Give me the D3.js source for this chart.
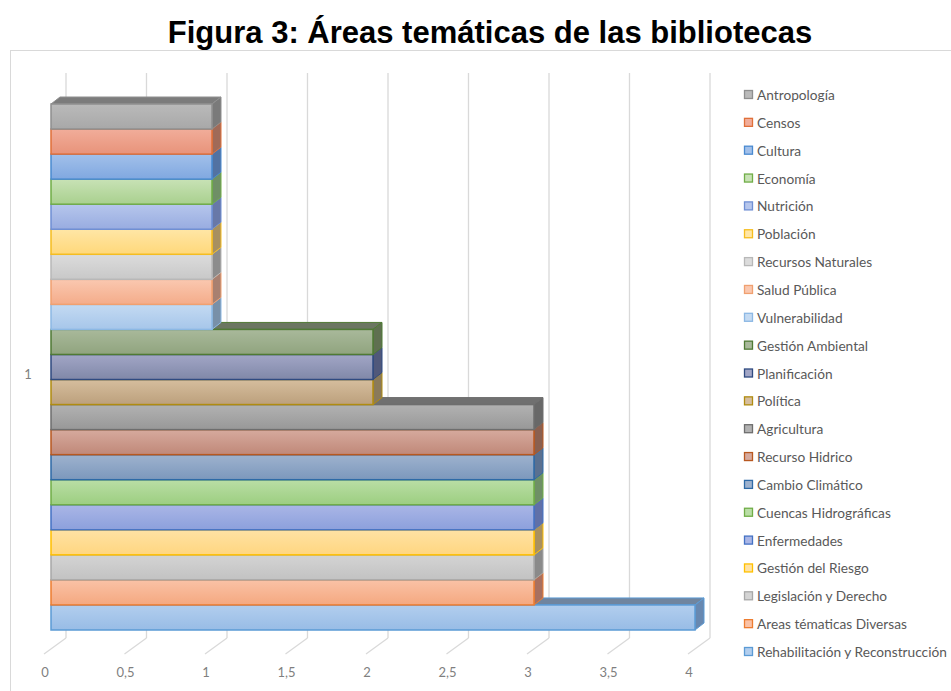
<!DOCTYPE html>
<html>
<head>
<meta charset="utf-8">
<script src="https://cdn.jsdelivr.net/npm/d3@7"></script>
<style>
  body { margin: 0; background: #fff; }
  svg text { font-family: Lato, "Open Sans", sans-serif; }
</style>
</head>
<body>
<svg id="chart" width="951" height="691"></svg>
<script>
// data
const series = [
  "Antropología", "Censos", "Cultura", "Economía", "Nutrición", "Población",
  "Recursos Naturales", "Salud Pública", "Vulnerabilidad", "Gestión Ambiental",
  "Planificación", "Política", "Agricultura", "Recurso Hidrico", "Cambio Climático",
  "Cuencas Hidrográficas", "Enfermedades", "Gestión del Riesgo", "Legislación y Derecho",
  "Areas tématicas Diversas", "Rehabilitación y Reconstrucción"
];
const values = [1, 1, 1, 1, 1, 1, 1, 1, 1, 2, 2, 2, 3, 3, 3, 3, 3, 3, 3, 3, 4];
const category = "1";
const xTicks = [0, 0.5, 1, 1.5, 2, 2.5, 3, 3.5, 4];

// styles: [fill top, fill bottom, stroke, side]
const colors = [
  ["#bababa", "#a8a8a8", "#8f8f8f", "#7a7a7a"],
  ["#f1ad9a", "#e8937a", "#e0703a", "#a06a58"],
  ["#a2c0ea", "#80a8e0", "#4a8ad0", "#5272a2"],
  ["#c8e2b6", "#a9d08e", "#70ad47", "#6f8f66"],
  ["#b6c6ec", "#98ace0", "#6f8fd4", "#6878a8"],
  ["#ffe6a6", "#ffd87a", "#f5bd20", "#a89060"],
  ["#dcdcdc", "#c8c8c8", "#b8b8b8", "#8c8c8c"],
  ["#fac8b0", "#f4ac8a", "#f0a070", "#a88070"],
  ["#c4daf2", "#a6c6ea", "#8cb8e4", "#7890a8"],
  ["#a9b99b", "#90a47e", "#4f7a34", "#5f7050"],
  ["#a2a6c6", "#8088a8", "#2f4a80", "#50587a"],
  ["#d6be9e", "#bca07c", "#b08c10", "#8a7a5a"],
  ["#b2b2b2", "#989898", "#6e6e6e", "#686868"],
  ["#d6aa9e", "#c08878", "#b85820", "#8a6050"],
  ["#9eb2ce", "#7c98bc", "#2e6aa6", "#5a7090"],
  ["#badea6", "#9cce80", "#70ad47", "#6f8f66"],
  ["#aab6e6", "#8ca0dc", "#4472c4", "#6070a8"],
  ["#ffe2a4", "#ffd680", "#ffc000", "#a89060"],
  ["#d4d4d4", "#c2c2c2", "#a8a8a8", "#8a8a8a"],
  ["#fac2a6", "#f4a880", "#ed7d31", "#a87060"],
  ["#b2ceee", "#98bce6", "#5b9bd5", "#6888b0"]
];

const svg = d3.select("#chart");
const dx = 9, dy = -7;          // bar depth
const wallDx = 15;              // back wall offset from bar front
const floorDx = -6;             // floor front edge offset
const wallTop = 73, wallBottom = 638, floorFront = 654;

const x = d3.scaleLinear().domain([0, 4]).range([51, 695]);
const y = d3.scaleBand().domain(series).range([104, 630]).padding(0);

// title
svg.append("text")
  .attr("x", 490).attr("y", 43)
  .attr("text-anchor", "middle")
  .style("font-family", "'Liberation Sans', Arial, sans-serif")
  .style("font-weight", "bold")
  .style("font-size", "31px")
  .attr("fill", "#000")
  .text("Figura 3: Áreas temáticas de las bibliotecas");

// chart frame
svg.append("rect")
  .attr("x", 10.5).attr("y", 50.5)
  .attr("width", 1000).attr("height", 700)
  .attr("fill", "none").attr("stroke", "#d9d9d9");

// gridlines on back wall + floor lines
const grid = svg.append("g");
grid.selectAll(".wall").data(xTicks).join("line")
  .attr("x1", d => x(d) + wallDx).attr("x2", d => x(d) + wallDx)
  .attr("y1", wallTop).attr("y2", wallBottom)
  .attr("stroke", "#d9d9d9").attr("stroke-width", 1.3);
grid.selectAll(".floor").data(xTicks).join("line")
  .attr("x1", d => x(d) + wallDx).attr("y1", wallBottom)
  .attr("x2", d => x(d) + floorDx - 1).attr("y2", floorFront)
  .attr("stroke", "#d9d9d9").attr("stroke-width", 1.3);

// tick labels
svg.append("g").selectAll("text").data(xTicks).join("text")
  .attr("x", d => x(d) + floorDx)
  .attr("y", 677)
  .attr("text-anchor", "middle")
  .style("font-size", "13px")
  .attr("fill", "#7f7f7f")
  .text(d => String(d).replace(".", ","));

svg.append("text")
  .attr("x", 28).attr("y", 379)
  .attr("text-anchor", "middle")
  .style("font-size", "13px")
  .attr("fill", "#7f7f7f")
  .text(category);

// gradients
const defs = svg.append("defs");
series.forEach((s, i) => {
  const g = defs.append("linearGradient")
    .attr("id", "g" + i).attr("x1", 0).attr("x2", 0).attr("y1", 0).attr("y2", 1);
  g.append("stop").attr("offset", "0%").attr("stop-color", colors[i][0]);
  g.append("stop").attr("offset", "100%").attr("stop-color", colors[i][1]);
});

// bars, drawn bottom first so upper bars cover hidden top faces
const bars = svg.append("g");
const order = d3.range(series.length).reverse();
order.forEach(i => {
  const x0 = x(0), x1 = x(values[i]);
  const y0 = y(series[i]), y1 = y0 + y.bandwidth();
  const c = colors[i];
  const g = bars.append("g");
  // top face
  g.append("path")
    .attr("d", `M${x0},${y0}L${x0 + dx},${y0 + dy}L${x1 + dx},${y0 + dy}L${x1},${y0}Z`)
    .attr("fill", d3.interpolateRgb(c[3], "#808080")(0.35))
    .attr("stroke", c[2]).attr("stroke-width", 1).attr("stroke-linejoin", "round");
  // side face
  g.append("path")
    .attr("d", `M${x1},${y0}L${x1 + dx},${y0 + dy}L${x1 + dx},${y1 + dy}L${x1},${y1}Z`)
    .attr("fill", c[3])
    .attr("stroke", c[2]).attr("stroke-width", 1).attr("stroke-linejoin", "round");
  // front face
  g.append("rect")
    .attr("x", x0).attr("y", y0)
    .attr("width", x1 - x0).attr("height", y1 - y0)
    .attr("fill", `url(#g${i})`)
    .attr("stroke", c[2]).attr("stroke-width", 1.5);
});

// legend
const legend = svg.append("g").attr("transform", "translate(744,95)");
const step = 27.85;
const item = legend.selectAll("g").data(series).join("g")
  .attr("transform", (d, i) => `translate(0,${i * step})`);
item.append("rect")
  .attr("x", 0.5).attr("y", -4.5).attr("width", 8).attr("height", 8)
  .attr("fill", (d, i) => colors[i][0])
  .attr("stroke", (d, i) => colors[i][2]).attr("stroke-width", 1.3);
item.append("text")
  .attr("x", 13).attr("y", 5)
  .style("font-size", "13.7px")
  .attr("fill", "#595959")
  .text(d => d);
</script>
</body>
</html>
